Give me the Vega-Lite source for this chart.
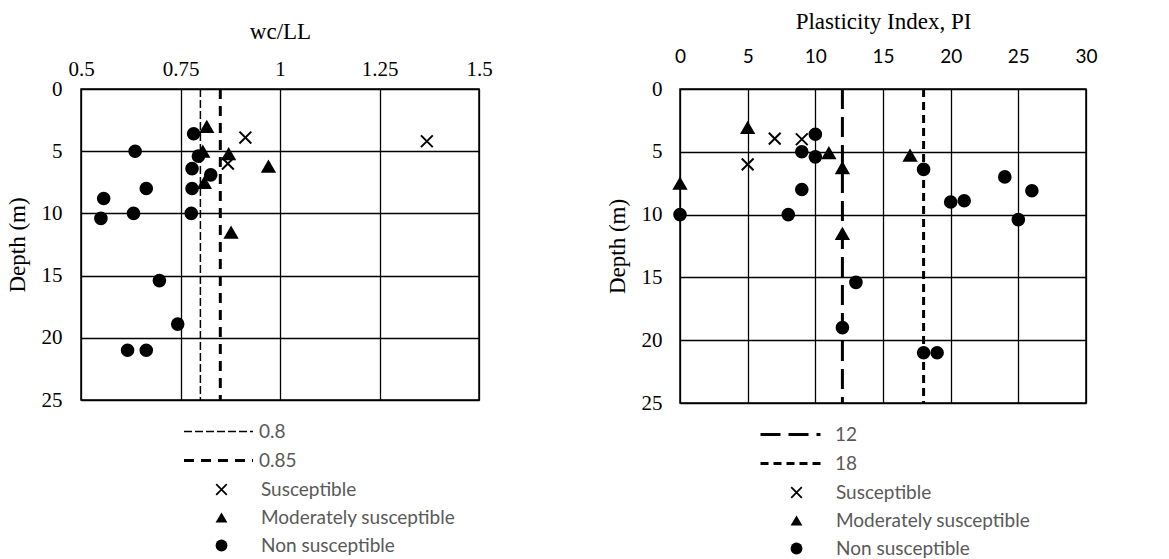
{
  "$schema": "https://vega.github.io/schema/vega-lite/v6.json",
  "background": "white",
  "padding": {"left": 5, "top": 9, "right": 0, "bottom": 0},
  "config": {
    "view": {"stroke": "black", "strokeWidth": 1.5},
    "axis": {"grid": true, "gridColor": "black", "gridWidth": 1.3, "gridOpacity": 1, "ticks": false, "domain": false, "labelFlush": false, "labelOverlap": false, "labelColor": "black", "titleColor": "black", "titleFontWeight": "normal"},
    "legend": {"labelColor": "#595959", "labelFont": "Lato", "labelFontSize": 19, "labelLimit": 400, "title": null, "orient": "none"}
  },
  "datasets": {
    "wc": [
      {"wcll": 0.783, "depth": 3.6, "class": "Non susceptible"},
      {"wcll": 0.636, "depth": 5.0, "class": "Non susceptible"},
      {"wcll": 0.795, "depth": 5.4, "class": "Non susceptible"},
      {"wcll": 0.779, "depth": 6.4, "class": "Non susceptible"},
      {"wcll": 0.826, "depth": 6.9, "class": "Non susceptible"},
      {"wcll": 0.664, "depth": 8.0, "class": "Non susceptible"},
      {"wcll": 0.779, "depth": 8.0, "class": "Non susceptible"},
      {"wcll": 0.557, "depth": 8.8, "class": "Non susceptible"},
      {"wcll": 0.632, "depth": 10.0, "class": "Non susceptible"},
      {"wcll": 0.777, "depth": 10.0, "class": "Non susceptible"},
      {"wcll": 0.55, "depth": 10.4, "class": "Non susceptible"},
      {"wcll": 0.697, "depth": 15.4, "class": "Non susceptible"},
      {"wcll": 0.743, "depth": 18.9, "class": "Non susceptible"},
      {"wcll": 0.617, "depth": 21.0, "class": "Non susceptible"},
      {"wcll": 0.664, "depth": 21.0, "class": "Non susceptible"},
      {"wcll": 0.816, "depth": 3.0, "class": "Moderately susceptible"},
      {"wcll": 0.806, "depth": 5.0, "class": "Moderately susceptible"},
      {"wcll": 0.871, "depth": 5.2, "class": "Moderately susceptible"},
      {"wcll": 0.971, "depth": 6.2, "class": "Moderately susceptible"},
      {"wcll": 0.81, "depth": 7.5, "class": "Moderately susceptible"},
      {"wcll": 0.877, "depth": 11.5, "class": "Moderately susceptible"},
      {"wcll": 0.913, "depth": 3.9, "class": "Susceptible"},
      {"wcll": 1.369, "depth": 4.2, "class": "Susceptible"},
      {"wcll": 0.869, "depth": 6.0, "class": "Susceptible"}
    ],
    "pi": [
      {"pi": 10, "depth": 3.6, "class": "Non susceptible"},
      {"pi": 9, "depth": 5.0, "class": "Non susceptible"},
      {"pi": 10, "depth": 5.4, "class": "Non susceptible"},
      {"pi": 18, "depth": 6.4, "class": "Non susceptible"},
      {"pi": 24, "depth": 7.0, "class": "Non susceptible"},
      {"pi": 9, "depth": 8.0, "class": "Non susceptible"},
      {"pi": 26, "depth": 8.1, "class": "Non susceptible"},
      {"pi": 20, "depth": 9.0, "class": "Non susceptible"},
      {"pi": 21, "depth": 8.9, "class": "Non susceptible"},
      {"pi": 0, "depth": 10.0, "class": "Non susceptible"},
      {"pi": 8, "depth": 10.0, "class": "Non susceptible"},
      {"pi": 25, "depth": 10.4, "class": "Non susceptible"},
      {"pi": 13, "depth": 15.4, "class": "Non susceptible"},
      {"pi": 12, "depth": 19.0, "class": "Non susceptible"},
      {"pi": 18, "depth": 21.0, "class": "Non susceptible"},
      {"pi": 19, "depth": 21.0, "class": "Non susceptible"},
      {"pi": 5, "depth": 3.05, "class": "Moderately susceptible"},
      {"pi": 0, "depth": 7.5, "class": "Moderately susceptible"},
      {"pi": 11, "depth": 5.06, "class": "Moderately susceptible"},
      {"pi": 17, "depth": 5.27, "class": "Moderately susceptible"},
      {"pi": 12, "depth": 6.25, "class": "Moderately susceptible"},
      {"pi": 12, "depth": 11.5, "class": "Moderately susceptible"},
      {"pi": 7, "depth": 3.95, "class": "Susceptible"},
      {"pi": 9, "depth": 4.0, "class": "Susceptible"},
      {"pi": 5, "depth": 6.0, "class": "Susceptible"}
    ],
    "wcLines": [
      {"value": 0.8, "label": "0.8", "top": 0, "bottom": 25},
      {"value": 0.85, "label": "0.85", "top": 0, "bottom": 25}
    ],
    "piLines": [
      {"value": 12, "label": "12", "top": 0, "bottom": 25},
      {"value": 18, "label": "18", "top": 0, "bottom": 25}
    ]
  },
  "spacing": 112,
  "resolve": {"scale": {"x": "independent", "y": "independent", "shape": "independent", "strokeDash": "independent"}, "legend": {"shape": "independent", "strokeDash": "independent"}},
  "hconcat": [
    {
      "width": 398,
      "height": 311,
      "resolve": {"legend": {"shape": "independent", "strokeDash": "independent"}},
      "layer": [
        {
          "data": {"name": "wcLines"},
          "mark": {"type": "rule", "color": "black"},
          "encoding": {
            "x": {"field": "value", "type": "quantitative", "scale": {"domain": [0.5, 1.5], "nice": false, "zero": false},
              "axis": {"orient": "top", "title": "wc/LL", "values": [0.5, 0.75, 1, 1.25, 1.5], "format": ".3~g", "labelFont": "Liberation Serif", "labelFontSize": 21, "labelPadding": 10, "titleFont": "Liberation Serif", "titleFontSize": 23, "titlePadding": 15}},
            "y": {"field": "top", "type": "quantitative", "scale": {"domain": [0, 25], "reverse": true, "nice": false},
              "axis": {"title": "Depth (m)", "values": [0, 5, 10, 15, 20, 25], "labelFont": "Liberation Serif", "labelFontSize": 21, "labelPadding": 19, "titleFont": "Liberation Serif", "titleFontSize": 23, "titlePadding": 12}},
            "y2": {"field": "bottom"},
            "strokeDash": {"field": "label", "type": "nominal", "scale": {"domain": ["0.8", "0.85"], "range": [[8, 3], [10, 7]]},
              "legend": {"legendX": 128, "legendY": 333, "symbolType": "M-3,0L3,0", "symbolSize": 529, "symbolStrokeColor": "black", "labelOffset": 31, "rowPadding": 9,
                "encode": {"symbols": {"update": {"strokeWidth": {"signal": "datum.value == '0.85' ? 3 : 1.5"}}}}}},
            "strokeWidth": {"condition": {"test": "datum.label == '0.85'", "value": 3}, "value": 1.5}
          }
        },
        {
          "data": {"name": "wc"},
          "mark": {"type": "point", "filled": true, "color": "black", "opacity": 1, "strokeWidth": 0},
          "encoding": {
            "x": {"field": "wcll", "type": "quantitative"},
            "y": {"field": "depth", "type": "quantitative"},
            "size": {"condition": [{"test": "datum['class'] == 'Non susceptible'", "value": 185}, {"test": "datum['class'] == 'Moderately susceptible'", "value": 235}], "value": 175},
            "shape": {"field": "class", "type": "nominal",
              "scale": {"domain": ["Susceptible", "Moderately susceptible", "Non susceptible"], "range": ["M-1,-0.79L-0.79,-1L1,0.79L0.79,1ZM0.79,-1L1,-0.79L-0.79,1L-1,0.79Z", "triangle-up", "circle"]},
              "legend": {"legendX": 131, "legendY": 391, "symbolSize": 140, "symbolFillColor": "black", "symbolStrokeColor": "black", "symbolStrokeWidth": 0, "symbolOpacity": 1, "labelOffset": 30, "rowPadding": 8}}
          }
        }
      ]
    },
    {
      "width": 406,
      "height": 314,
      "resolve": {"legend": {"shape": "independent", "strokeDash": "independent"}},
      "layer": [
        {
          "data": {"name": "piLines"},
          "mark": {"type": "rule", "color": "black", "strokeWidth": 3},
          "encoding": {
            "x": {"field": "value", "type": "quantitative", "scale": {"domain": [0, 30], "nice": false},
              "axis": {"orient": "top", "title": "Plasticity Index, PI", "values": [0, 5, 10, 15, 20, 25, 30], "labelFont": "Lato", "labelFontSize": 19, "labelPadding": 23, "titleFont": "Liberation Serif", "titleFontSize": 23, "titlePadding": 14}},
            "y": {"field": "top", "type": "quantitative", "scale": {"domain": [0, 25], "reverse": true, "nice": false},
              "axis": {"title": "Depth (m)", "values": [0, 5, 10, 15, 20, 25], "labelFont": "Liberation Serif", "labelFontSize": 21, "labelPadding": 18, "titleFont": "Liberation Serif", "titleFontSize": 23, "titlePadding": 12}},
            "y2": {"field": "bottom"},
            "strokeDash": {"field": "label", "type": "nominal", "scale": {"domain": ["12", "18"], "range": [[20, 8], [8, 5]]},
              "legend": {"legendX": 99, "legendY": 334, "symbolType": "M-3,0L3,0", "symbolSize": 400, "symbolStrokeColor": "black", "symbolStrokeWidth": 3, "labelOffset": 33, "rowPadding": 7}}
          }
        },
        {
          "data": {"name": "pi"},
          "mark": {"type": "point", "filled": true, "color": "black", "opacity": 1, "strokeWidth": 0},
          "encoding": {
            "x": {"field": "pi", "type": "quantitative"},
            "y": {"field": "depth", "type": "quantitative"},
            "size": {"condition": [{"test": "datum['class'] == 'Non susceptible'", "value": 185}, {"test": "datum['class'] == 'Moderately susceptible'", "value": 235}], "value": 175},
            "shape": {"field": "class", "type": "nominal",
              "scale": {"domain": ["Susceptible", "Moderately susceptible", "Non susceptible"], "range": ["M-1,-0.79L-0.79,-1L1,0.79L0.79,1ZM0.79,-1L1,-0.79L-0.79,1L-1,0.79Z", "triangle-up", "circle"]},
              "legend": {"legendX": 107, "legendY": 394, "symbolSize": 140, "symbolFillColor": "black", "symbolStrokeColor": "black", "symbolStrokeWidth": 0, "symbolOpacity": 1, "labelOffset": 30, "rowPadding": 8}}
          }
        }
      ]
    }
  ]
}
